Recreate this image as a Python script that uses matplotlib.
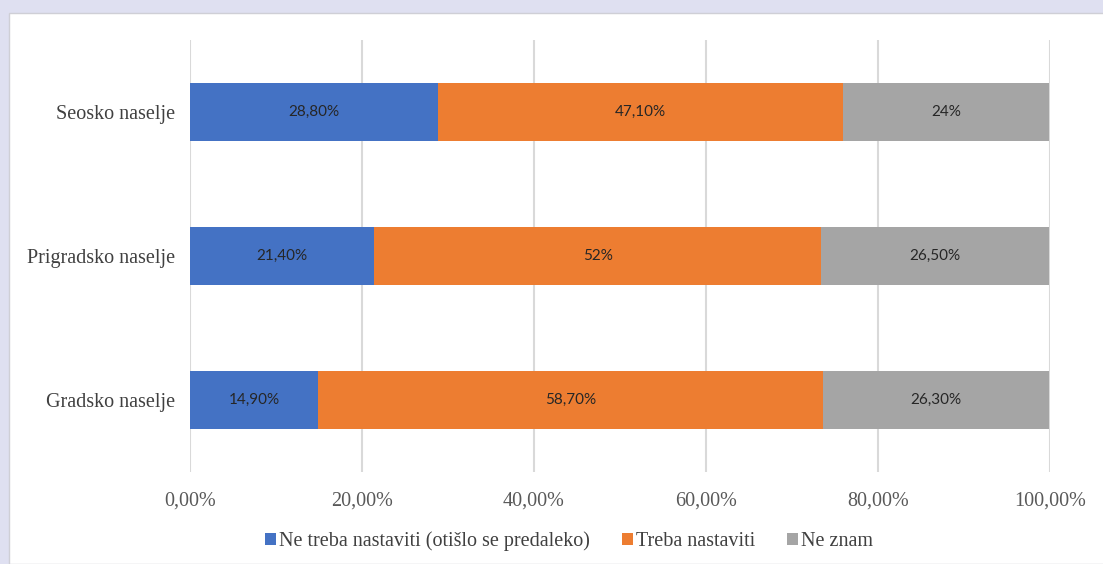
import matplotlib
matplotlib.use("Agg")
import matplotlib.pyplot as plt
from matplotlib.patches import Rectangle
from matplotlib.ticker import FuncFormatter

categories = ["Gradsko naselje", "Prigradsko naselje", "Seosko naselje"]
series_names = ["Ne treba nastaviti (otišlo se predaleko)", "Treba nastaviti", "Ne znam"]
ne_treba = [14.9, 21.4, 28.8]
treba = [58.7, 52.0, 47.1]
ne_znam = [26.3, 26.5, 24.0]
labels_ne_treba = ["14,90%", "21,40%", "28,80%"]
labels_treba = ["58,70%", "52%", "47,10%"]
labels_ne_znam = ["26,30%", "26,50%", "24%"]
xticks = [0, 20, 40, 60, 80, 100]

colors = ["#4472C4", "#ED7D31", "#A5A5A5"]

W, H = 1103, 564
fig = plt.figure(figsize=(W / 100, H / 100), dpi=100)
fig.patch.set_facecolor("#dfe0f1")
fig.patches.append(Rectangle((9 / W, 0), 1, 1 - 13 / H, transform=fig.transFigure,
                             facecolor="white", edgecolor="#cfcfd6", linewidth=1, zorder=-10))

ax = fig.add_axes([190 / W, (H - 472) / H, 860 / W, 432 / H])
ax.set_facecolor("none")

y = list(range(len(categories)))
series = [ne_treba, treba, ne_znam]
labels = [labels_ne_treba, labels_treba, labels_ne_znam]
left = [0] * len(categories)
for vals, lab, col, name in zip(series, labels, colors, series_names):
    bars = ax.barh(y, vals, left=left, height=0.4, color=col, label=name, zorder=3)
    ax.bar_label(bars, labels=lab, label_type="center", fontsize=11,
                 fontfamily="Lato", color="#262626")
    left = [l + v for l, v in zip(left, vals)]

ax.set_ylim(-0.5, 2.5)
ax.set_xlim(0, 100)
ax.set_xticks(xticks)
ax.xaxis.set_major_formatter(FuncFormatter(lambda v, p: f"{v:.2f}%".replace(".", ",")))
ax.set_yticks(y)
ax.set_yticklabels(categories)
ax.grid(axis="x", color="#d9d9d9", linewidth=1.5, zorder=0)
for s in ax.spines.values():
    s.set_visible(False)
ax.tick_params(length=0)
ax.tick_params(axis="x", pad=14, labelsize=14.5, labelcolor="#595959")
ax.tick_params(axis="y", pad=11, labelsize=14.5, labelcolor="#404040")
for t in ax.get_xticklabels() + ax.get_yticklabels():
    t.set_fontfamily("Liberation Serif")

leg = fig.legend(loc="center", bbox_to_anchor=(569 / W, 1 - 541 / H), ncol=3, frameon=False,
                 prop={"family": "Liberation Serif", "size": 14.5}, handlelength=0.55,
                 handleheight=0.55, handletextpad=0.15, columnspacing=1.6)
for t in leg.get_texts():
    t.set_color("#404040")

fig.savefig("out.png", dpi=100, facecolor=fig.get_facecolor())
